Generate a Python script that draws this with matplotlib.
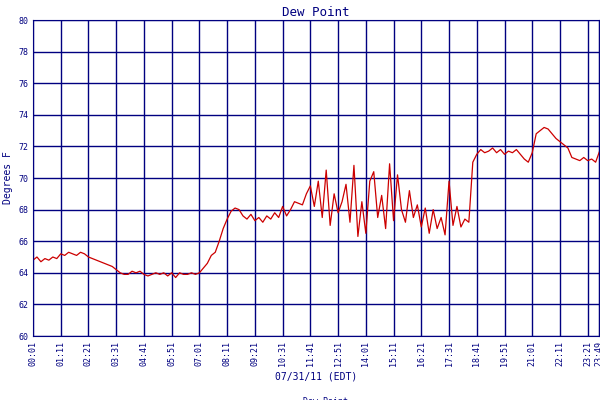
import matplotlib.pyplot as plt

# dew point, sampled every 10 minutes from 00:01
dew = [64.8, 65.0, 64.7, 64.9, 64.8, 65.0, 64.9, 65.2, 65.1, 65.3,
       65.2, 65.1, 65.3, 65.2, 65.0, 64.9, 64.8, 64.7, 64.6, 64.5,
       64.4, 64.2, 64.0, 63.9, 63.9, 64.1, 64.0, 64.1, 63.9, 63.8,
       63.9, 64.0, 63.9, 64.0, 63.8, 64.0, 63.7, 64.0, 63.9, 63.9,
       64.0, 63.9, 64.0, 64.3, 64.6, 65.1, 65.3, 66.0, 66.8, 67.4,
       67.9, 68.1, 68.0, 67.6, 67.4, 67.7, 67.3, 67.5, 67.2, 67.6,
       67.4, 67.8, 67.5, 68.2, 67.6, 68.0, 68.5, 68.4, 68.3, 69.0,
       69.5, 68.2, 69.8, 67.5, 70.5, 67.0, 69.0, 67.8, 68.5, 69.6,
       67.2, 70.8, 66.3, 68.5, 66.5, 69.8, 70.4, 67.5, 68.9, 66.8,
       70.9, 67.3, 70.2, 68.0, 67.2, 69.2, 67.5, 68.3, 66.9, 68.1,
       66.5, 68.0, 66.8, 67.5, 66.4, 69.8, 67.0, 68.2, 66.9, 67.4,
       67.2, 71.0, 71.5, 71.8, 71.6, 71.7, 71.9, 71.6, 71.8, 71.5,
       71.7, 71.6, 71.8, 71.5, 71.2, 71.0, 71.6, 72.8, 73.0, 73.2,
       73.1, 72.8, 72.5, 72.3, 72.1, 71.9, 71.3, 71.2, 71.1, 71.3,
       71.1, 71.2, 71.0, 71.7]
minutes = list(range(1, 1441, 10))[:len(dew)]

tick_pos = list(range(1, 1402, 70)) + [1429]
tick_lbl = ["00:01", "01:11", "02:21", "03:31", "04:41", "05:51", "07:01",
            "08:11", "09:21", "10:31", "11:41", "12:51", "14:01", "15:11",
            "16:21", "17:31", "18:41", "19:51", "21:01", "22:11", "23:21", "23:49"]

navy = "#000080"
plt.rcParams['font.family'] = 'DejaVu Sans Mono'
fig = plt.figure(figsize=(6, 4), dpi=100)
ax = fig.add_axes([0.055, 0.16, 0.943, 0.79])
ax.plot(minutes, dew, color="#cc0000", lw=0.9, label="Dew Point")
ax.set_xlim(1, 1429)
ax.set_ylim(60, 80)
ax.set_yticks(range(60, 81, 2))
ax.set_xticks(tick_pos)
ax.set_xticklabels(tick_lbl, rotation=90, fontsize=6, color=navy)
ax.tick_params(axis='y', labelsize=6, colors=navy, length=0)
ax.tick_params(axis='x', length=0)
ax.grid(True, color=navy, lw=1)
for s in ax.spines.values():
    s.set_color(navy)
ax.set_title("Dew Point", color=navy, fontsize=9, pad=3)
ax.set_ylabel("Degrees F", color=navy, fontsize=7)
ax.set_xlabel("07/31/11 (EDT)", color=navy, fontsize=7)
leg = ax.legend(loc='upper center', bbox_to_anchor=(0.5, -0.17), frameon=False,
                fontsize=6, handlelength=1.5)
for t in leg.get_texts():
    t.set_color(navy)
fig.savefig("out.png")
